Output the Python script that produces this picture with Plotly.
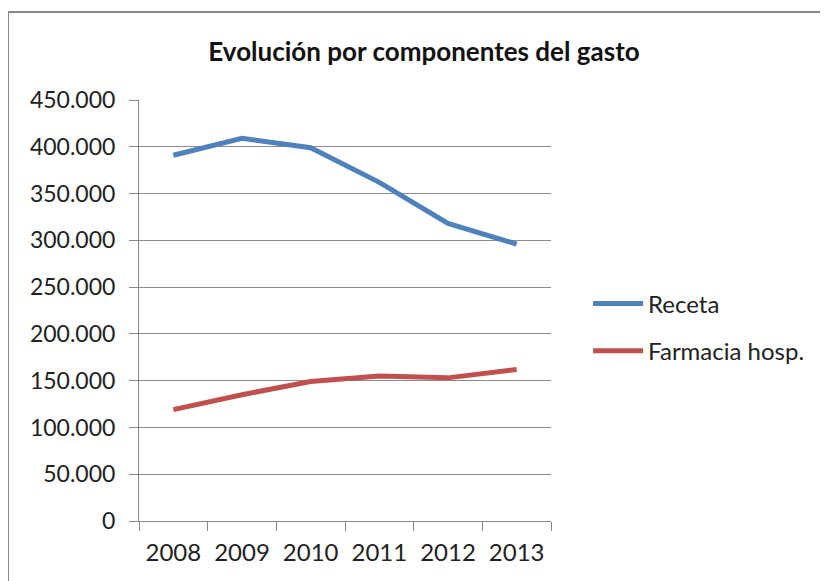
import plotly.graph_objects as go

years = ["2008", "2009", "2010", "2011", "2012", "2013"]
receta = [391000, 409000, 399000, 362000, 318000, 296000]
farmacia = [119000, 135000, 149000, 155000, 153000, 162000]
y_ticks = [0, 50000, 100000, 150000, 200000, 250000, 300000, 350000, 400000, 450000]

FONT = "Lato, 'Open Sans', sans-serif"

fig = go.Figure()
fig.add_trace(go.Scatter(x=years, y=receta, mode="lines", name="Receta",
                         legendgroup="a",
                         line=dict(color="#4F81BD", width=5)))
fig.add_trace(go.Scatter(x=years, y=farmacia, mode="lines", name="Farmacia hosp.",
                         legendgroup="b",
                         line=dict(color="#C0504D", width=5)))

# page body has an 8px margin; figure is sized to compensate
W, H = 820, 573
L, R, T, B = 131, 277, 92, 60
PW, PH = W - L - R, H - T - B

fig.update_layout(
    width=W, height=H,
    margin=dict(l=L, r=R, t=T, b=B),
    paper_bgcolor="white", plot_bgcolor="white",
    separators=",.",
    font=dict(family=FONT, color="#222", size=22),
    title=dict(text="<b>Evolución por componentes del gasto</b>",
               x=416/W, xanchor="center", y=1-44/H, yanchor="middle",
               font=dict(family=FONT, size=26, color="#111")),
    showlegend=True,
    legend=dict(x=1.09, xanchor="left", y=0.46, yanchor="middle",
                font=dict(family=FONT, size=24, color="#222"),
                itemwidth=50, tracegroupgap=13, bgcolor="rgba(0,0,0,0)"),
    xaxis=dict(type="category", range=[-0.5, 5.5], tickson="boundaries",
               ticks="outside", ticklen=9, tickcolor="#888", tickwidth=1,
               showline=True, linecolor="#888", linewidth=1,
               showgrid=False, ticklabelstandoff=10,
               tickfont=dict(family=FONT, size=24, color="#222")),
    yaxis=dict(range=[0, 450000], tickvals=y_ticks, tickformat=",d",
               ticks="outside", ticklen=9, tickcolor="#888", tickwidth=1,
               showline=True, linecolor="#888", linewidth=1,
               showgrid=True, gridcolor="#8c8c8c", gridwidth=1,
               zeroline=False, ticklabelstandoff=9,
               tickfont=dict(family=FONT, size=23, color="#222")),
    shapes=[dict(type="rect", xref="paper", yref="paper",
                 x0=(0-L)/PW, x1=(W+20-L)/PW,
                 y0=-(B+20)/PH, y1=1+(T-4)/PH,
                 line=dict(color="#888", width=2), layer="below")],
)

fig.write_html("out.html")
